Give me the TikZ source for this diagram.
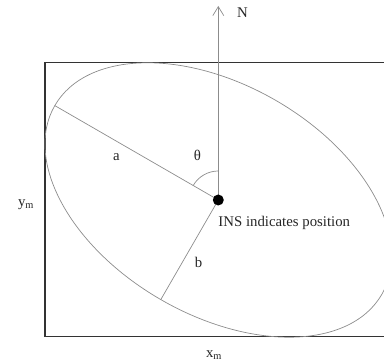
\documentclass[tikz,border=0pt]{standalone}
\usepackage{fontspec}
\setmainfont{Liberation Serif}
\usetikzlibrary{arrows.meta,calc}
\tikzset{
  frame/.style={draw=black!80, line width=1.2pt},
  thinline/.style={draw=black!45, line width=0.7pt},
  insdot/.style={circle, fill=black, inner sep=0pt, minimum size=11pt},
  lbl/.style={font=\fontsize{14.8}{17}\selectfont, text=black!85, inner sep=0pt}
}
\begin{document}
\begin{tikzpicture}[x=1pt, y=1pt]
    \useasboundingbox (0,0) rectangle (384,364);
    % Map frame
    \draw[frame] (45,27.3) rectangle (392,301.7);

    % Error ellipse round the INS position
    \coordinate (ins) at (218.3,164);
    \draw[thinline, rotate around={-30:(ins)}] (ins) ellipse [x radius=188.8pt, y radius=115pt];

    % Semi-axes
    \coordinate (aend) at ($(ins)+(150:188.8pt)$);
    \coordinate (bend) at ($(ins)+(240:115pt)$);
    \draw[thinline] (ins) -- (aend);
    \draw[thinline] (ins) -- (bend);

    % North arrow
    \coordinate (north) at (218.3,358);
    \draw[thinline, -{Straight Barb[length=9pt, width=11pt]}] (ins) -- (north);

    % Heading angle
    \draw[thinline] ($(ins)+(90:29pt)$) arc[start angle=90, end angle=150, radius=29pt];

    % Position dot
    \node[insdot] (inspos) at (ins) {};

    % Labels
    \node[lbl] (nlbl) at (242.5,351.5) {N};
    \node[lbl] (thetalbl) at (197.5,209) {θ};
    \node[lbl] (albl) at (116.5,207) {a};
    \node[lbl] (blbl) at (198.5,102) {b};
    \node[lbl, anchor=base west] (inslbl) at (218.3,137) {INS indicates position};
    \node[lbl] (ylbl) at (26,159) {y\textsubscript{m}};
    \node[lbl] (xlbl) at (214,9) {x\textsubscript{m}};
\end{tikzpicture}
\end{document}
